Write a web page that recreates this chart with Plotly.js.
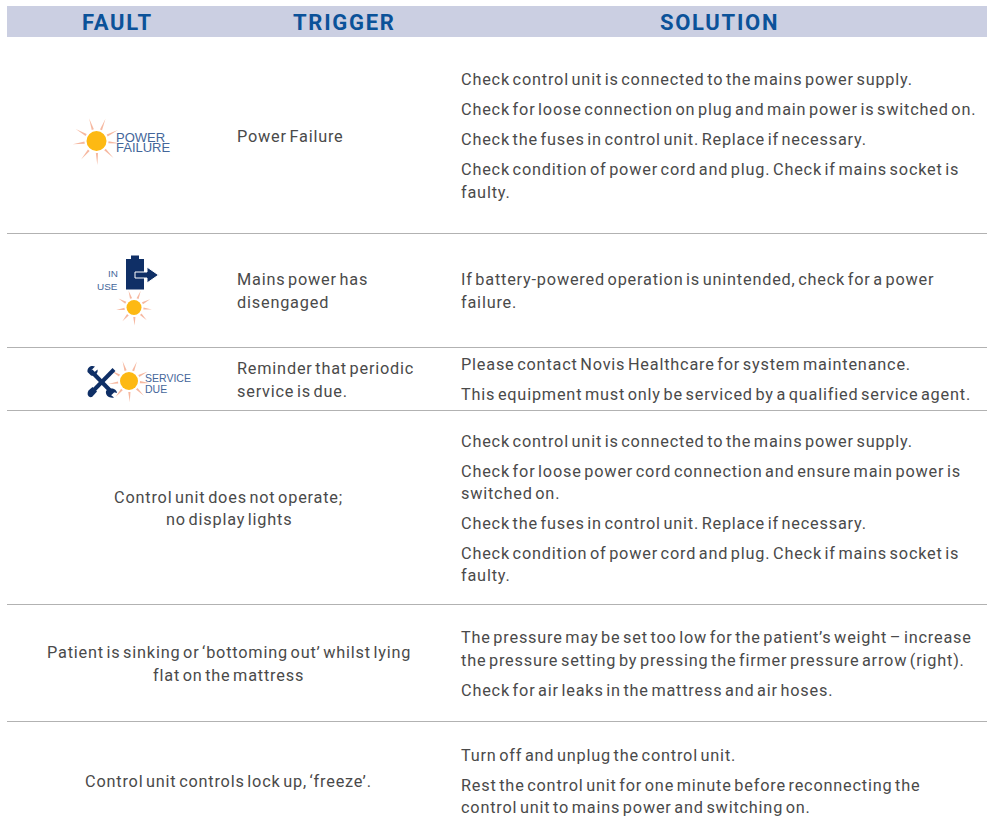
<!DOCTYPE html>
<html><head><meta charset="utf-8">
<script src="https://cdn.plot.ly/plotly-3.0.1.min.js"></script>
<style>html,body{margin:0;padding:0;background:#fff}#c{width:990px;height:835px}</style>
</head><body><div id="c"></div>
<script>
const headers = ["FAULT", "TRIGGER", "SOLUTION"];
const triggerLines = ["Power Failure", "Mains power has", "disengaged", "Reminder that periodic", "service is due."];
const spanLines = ["Control unit does not operate;", "no display lights", "Patient is sinking or ‘bottoming out’ whilst lying", "flat on the mattress", "Control unit controls lock up, ‘freeze’."];
const solutionLines = [
 "Check control unit is connected to the mains power supply.",
 "Check for loose connection on plug and main power is switched on.",
 "Check the fuses in control unit. Replace if necessary.",
 "Check condition of power cord and plug. Check if mains socket is",
 "faulty.",
 "If battery-powered operation is unintended, check for a power",
 "failure.",
 "Please contact Novis Healthcare for system maintenance.",
 "This equipment must only be serviced by a qualified service agent.",
 "Check control unit is connected to the mains power supply.",
 "Check for loose power cord connection and ensure main power is",
 "switched on.",
 "Check the fuses in control unit. Replace if necessary.",
 "Check condition of power cord and plug. Check if mains socket is",
 "faulty.",
 "The pressure may be set too low for the patient’s weight – increase",
 "the pressure setting by pressing the firmer pressure arrow (right).",
 "Check for air leaks in the mattress and air hoses.",
 "Turn off and unplug the control unit.",
 "Rest the control unit for one minute before reconnecting the",
 "control unit to mains power and switching on."
];
const iconLabels = ["POWER", "FAILURE", "IN", "USE", "SERVICE", "DUE"];

// layout positions (pixels)
const headerX = [117.5, 344.5, 719.5];
const triggerY = [136, 279, 302, 368, 391];
const spanY = [497, 519, 652, 675, 781];
const solutionY = [79,109,139,169,192,279,302,364,394,441,471,493,523,553,575,637,660,690,755,785,807];
const ruleY = [233.5, 347.5, 410.5, 604.5, 721.5];

const BODY = {family:"Roboto, sans-serif", size:16.3, color:"#4a4a4a"};
const bodyText = t=>`<span style="letter-spacing:0.8px;word-spacing:-2.2px">${t}</span>`;
const ann = [];
function T(text,x,y,anchor,font){ann.push({text,x,y,xref:"x",yref:"y",xanchor:anchor,yanchor:"middle",align:anchor,showarrow:false,font,borderpad:0,borderwidth:0});}
headers.forEach((h,i)=>T(`<span style="letter-spacing:1.7px"><b>${h}</b></span>`,headerX[i],22,"center",{family:"Roboto, sans-serif",size:22,color:"#0b5299"}));
triggerLines.forEach((t,i)=>T(bodyText(t),237,triggerY[i],"left",BODY));
spanLines.forEach((t,i)=>T(bodyText(t),228.5,spanY[i],"center",BODY));
solutionLines.forEach((t,i)=>T(bodyText(t),461,solutionY[i],"left",BODY));
const ICON = c=>({family:"Liberation Sans, sans-serif",size:c,color:"#44669a"});
T(iconLabels[0],116,137,"left",ICON(13));
T(iconLabels[1],116,147.5,"left",ICON(13));
T(iconLabels[2],118,273.5,"right",ICON(9.9));
T(iconLabels[3],118,286.5,"right",ICON(9.9));
T(iconLabels[4],145,378,"left",ICON(10.5));
T(iconLabels[5],145,388.5,"left",ICON(10.5));

const shapes = [];
const R=(x0,y0,x1,y1,fill)=>shapes.push({type:"rect",x0,y0,x1,y1,fillcolor:fill,line:{width:0},layer:"below"});
const P=(path,fill,lc,lw)=>shapes.push({type:"path",path,fillcolor:fill||"rgba(0,0,0,0)",line:{width:lw||0,color:lc||"rgba(0,0,0,0)"},layer:"below"});
const L=(x0,y0,x1,y1,c,w)=>shapes.push({type:"line",x0,y0,x1,y1,line:{color:c,width:w},layer:"below"});
R(7,6,987,37,"#cbcfe2");
ruleY.forEach(y=>L(7,y,987,y,"#b2b2b2",1));

function sun(cx,cy,r,rin,rout){
  const angles=[-108,-68,-27,6,45,88,130,172,-150];
  angles.forEach(a=>{
    const t=a*Math.PI/180, n=t+Math.PI/2, w=1.1;
    const ax=cx+rin*Math.cos(t), ay=cy+rin*Math.sin(t);
    const bx=cx+rout*Math.cos(t), by=cy+rout*Math.sin(t);
    P(`M${ax+w*Math.cos(n)},${ay+w*Math.sin(n)} L${bx},${by} L${ax-w*Math.cos(n)},${ay-w*Math.sin(n)} Z`,"#f6b8a0");
  });
  shapes.push({type:"circle",x0:cx-r,x1:cx+r,y0:cy-r,y1:cy+r,fillcolor:"#fdb913",line:{width:0},layer:"below"});
}
sun(96.5,141,10,12,24);
sun(134,307.5,7.5,9.5,18);
sun(129,381,9,11,21);

// battery with arrow
const NAVY="#0f2f66";
P("M126,259 L131,259 L131,255.5 L139,255.5 L139,259 L144,259 L144,289.5 L126,289.5 Z",NAVY);
P("M135,272 L147,272 L147,267 L158.5,275 L147,283 L147,278 L135,278 Z",NAVY,"#ffffff",1);
P("M144.5,273.5 L148.5,273.5 L148.5,270 L156,275 L148.5,280 L148.5,276.5 L144.5,276.5 Z",NAVY);

// tools
L(91,371,113,393.5,NAVY,4);
L(114,369.5,92,392,NAVY,4);
P("M87.5,372 C87,366.5 92,365 95,366.5 L91.5,370 L94,372.5 L97.5,369.5 C98.5,373 95,376.5 91,375.5 Z",NAVY);
P("M106,391 C110,386.5 117,389 117,393 L113,392 L111,395 L114,397.5 C110,398.5 105,396 106,391 Z",NAVY);
P("M88.5,390.5 L92.5,387 L97,391.5 L92,397 C88,398 86.5,394 88.5,390.5 Z",NAVY);

Plotly.newPlot("c",[],{
  width:990,height:835,margin:{l:0,r:0,t:0,b:0},
  paper_bgcolor:"#fff",plot_bgcolor:"#fff",showlegend:false,
  xaxis:{range:[0,990],visible:false,fixedrange:true},
  yaxis:{range:[835,0],visible:false,fixedrange:true},
  annotations:ann,shapes
},{displayModeBar:false,staticPlot:true});
</script></body></html>
